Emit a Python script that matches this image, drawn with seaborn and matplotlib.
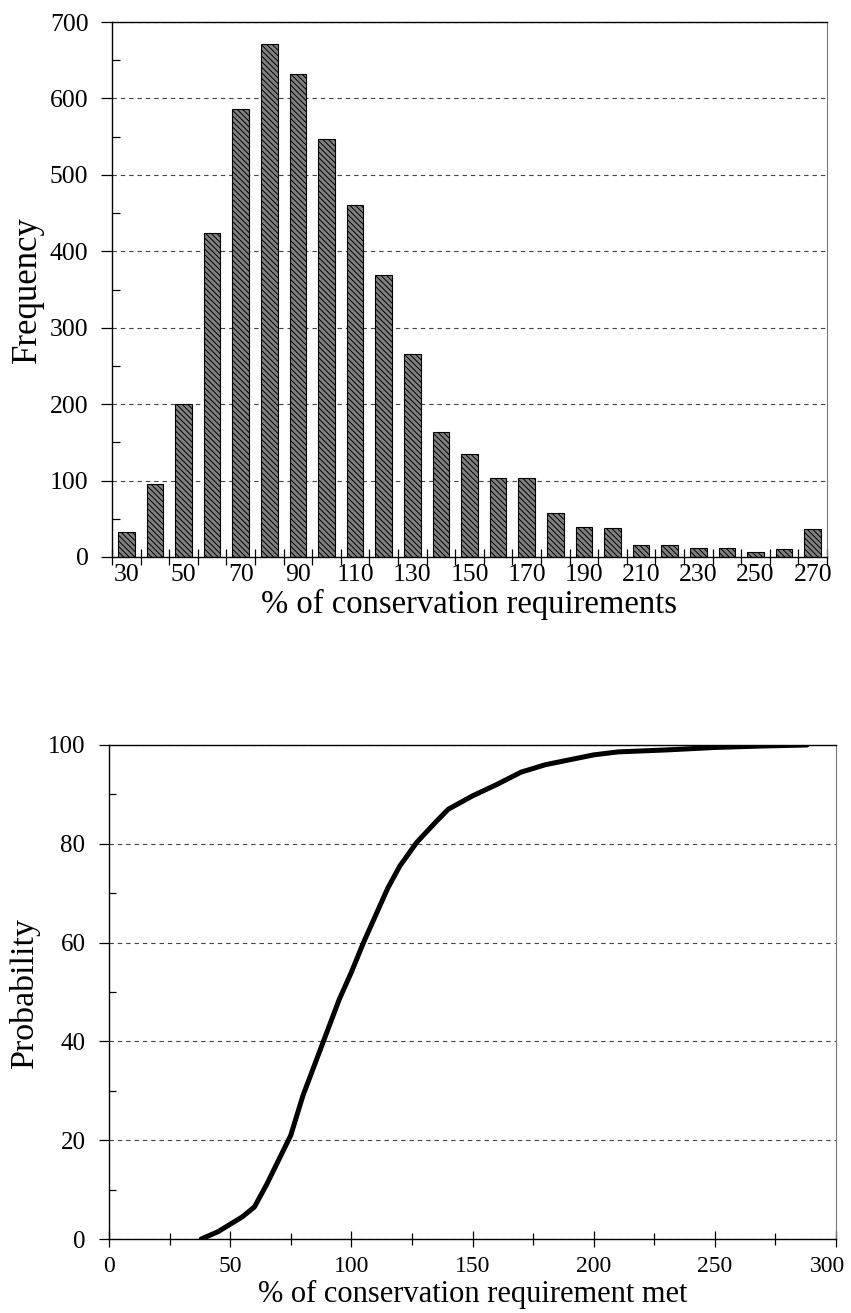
import numpy as np
import matplotlib.pyplot as plt
import seaborn as sns
from matplotlib.ticker import MultipleLocator, FuncFormatter

# histogram: % of conservation requirements (bin labels) vs frequency
bins = [30, 40, 50, 60, 70, 80, 90, 100, 110, 120, 130, 140, 150,
        160, 170, 180, 190, 200, 210, 220, 230, 240, 250, 260, 270]
frequency = [33, 95, 200, 424, 586, 671, 632, 547, 460, 369, 266, 163, 135,
             103, 104, 58, 39, 38, 16, 16, 12, 12, 6, 11, 36]

# cumulative probability curve
req_met = [38, 45, 50, 55, 60, 65, 70, 75, 80, 85, 90, 95, 100, 105, 110, 115,
           120, 127, 135, 140, 150, 160, 170, 180, 190, 200, 210, 230, 250, 270, 288]
probability = [0, 1.5, 3, 4.5, 6.5, 11, 16, 21, 29, 35.5, 42, 48.5, 54, 60, 65.5, 71,
               75.5, 80.3, 84.5, 87, 89.7, 92, 94.5, 96, 97, 98, 98.6, 99, 99.5, 99.8, 100]

sns.set_theme(style='white')
plt.rcParams['font.family'] = ['Liberation Serif', 'DejaVu Serif']
plt.rcParams['text.color'] = 'black'
plt.rcParams['axes.labelcolor'] = 'black'
plt.rcParams['xtick.color'] = 'black'
plt.rcParams['ytick.color'] = 'black'
plt.rcParams['hatch.linewidth'] = 0.7
plt.rcParams['hatch.color'] = 'black'

grid_style = (0, (4, 3.5))

fig = plt.figure(figsize=(8.51, 13.13), dpi=100)
ax1 = fig.add_axes([0.1316, 0.5758, 0.8402, 0.4074])
ax2 = fig.add_axes([0.1281, 0.0563, 0.8543, 0.3763])

# ---- top: histogram ----
sns.barplot(x=[str(b) for b in bins], y=frequency, ax=ax1, color='#808080',
            saturation=1, width=0.58, edgecolor='black', linewidth=0.8)
for p in ax1.patches:
    p.set_hatch('\\\\\\\\\\\\')
ax1.set_xlim(-0.5, len(bins) - 0.5)
ax1.set_ylim(0, 700)
ax1.set_xticks(range(0, len(bins), 2))
ax1.set_xticklabels(bins[::2])
ax1.set_xticks(np.arange(len(bins) + 1) - 0.5, minor=True)
ax1.tick_params(axis='x', which='major', bottom=True, length=0, pad=5, labelsize=18.5)
ax1.tick_params(axis='x', which='minor', bottom=True, direction='inout', length=11, width=0.9)
ax1.yaxis.set_major_locator(MultipleLocator(100))
ax1.yaxis.set_minor_locator(MultipleLocator(50))
ax1.tick_params(axis='y', which='major', left=True, direction='out', length=8, width=0.9,
                pad=9, labelsize=18.5)
ax1.tick_params(axis='y', which='minor', left=True, direction='in', length=6, width=0.9)
ax1.grid(axis='y', which='major', linestyle=grid_style, color='#444444', linewidth=0.8)
ax1.set_axisbelow(True)
ax1.set_xlabel('% of conservation requirements', fontsize=23.5, labelpad=2)
ax1.set_ylabel('Frequency', fontsize=25, labelpad=4)
for s in ['left', 'bottom', 'top']:
    ax1.spines[s].set_color('black')
    ax1.spines[s].set_linewidth(1.0)
ax1.spines['right'].set_color('#777777')
ax1.spines['right'].set_linewidth(0.8)

# ---- bottom: cumulative probability ----
sns.lineplot(x=req_met, y=probability, ax=ax2, color='black', linewidth=3.6)
ax2.set_xlim(0, 300)
ax2.set_ylim(0, 100)
ax2.xaxis.set_major_locator(MultipleLocator(50))
ax2.xaxis.set_minor_locator(MultipleLocator(25))
# the 300 label sits a little left so it stays inside the figure
ax2.xaxis.set_major_formatter(FuncFormatter(lambda v, pos: '' if v >= 300 else f'{v:.0f}'))
ax2.yaxis.set_major_locator(MultipleLocator(20))
ax2.yaxis.set_minor_locator(MultipleLocator(10))
ax2.tick_params(axis='x', which='major', bottom=True, direction='inout', length=11, width=0.9,
                pad=7, labelsize=17)
ax2.tick_params(axis='x', which='minor', bottom=True, direction='inout', length=8, width=0.9)
ax2.tick_params(axis='y', which='major', left=True, direction='out', length=7, width=0.9,
                pad=10, labelsize=18)
ax2.tick_params(axis='y', which='minor', left=True, direction='in', length=5, width=0.9)
ax2.annotate('300', xy=(300, 0), xycoords='data', xytext=(-6, -12.5),
             textcoords='offset points', ha='center', va='top', fontsize=17)
ax2.grid(axis='y', which='major', linestyle=grid_style, color='#444444', linewidth=0.8)
ax2.set_axisbelow(True)
ax2.set_xlabel('% of conservation requirement met', fontsize=22, labelpad=2)
ax2.set_ylabel('Probability', fontsize=24.5, labelpad=6)
for s in ['left', 'bottom', 'top']:
    ax2.spines[s].set_color('black')
    ax2.spines[s].set_linewidth(1.0)
ax2.spines['right'].set_color('#777777')
ax2.spines['right'].set_linewidth(0.8)

fig.savefig('out.png', dpi=100)
